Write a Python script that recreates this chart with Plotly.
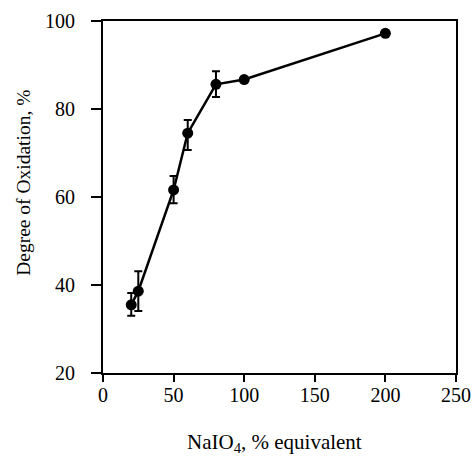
import plotly.graph_objects as go

# NaIO4 equivalents (%) and degree of oxidation (%)
naio4 = [20, 25, 50, 60, 80, 100, 200]
oxidation = [35.5, 38.6, 61.6, 74.5, 85.6, 86.7, 97.2]
err_plus = [2.7, 4.5, 3.2, 3.0, 3.0, 0, 0]
err_minus = [2.5, 4.5, 3.0, 3.8, 2.9, 0, 0]

x_ticks = [0, 50, 100, 150, 200, 250]
y_ticks = [20, 40, 60, 80, 100]

x_title = 'NaIO<sub>4</sub>, % equivalent'
y_title = 'Degree of Oxidation, %'

serif = 'Liberation Serif'

fig = go.Figure()

fig.add_trace(go.Scatter(
    x=naio4,
    y=oxidation,
    mode='lines+markers',
    line=dict(color='black', width=2.5),
    marker=dict(color='black', size=11),
    error_y=dict(
        type='data',
        symmetric=False,
        array=err_plus,
        arrayminus=err_minus,
        color='black',
        thickness=2,
        width=4
    ),
    showlegend=False
))

axis_style = dict(
    ticks='outside',
    tickwidth=2,
    tickcolor='black',
    showline=True,
    linecolor='black',
    linewidth=2,
    mirror=True,
    showgrid=False,
    zeroline=False,
    automargin=False,
    tickfont=dict(family=serif, size=20),
)

fig.update_layout(
    width=473,
    height=457,
    margin=dict(l=103, r=17, t=21, b=84, autoexpand=False),
    paper_bgcolor='white',
    plot_bgcolor='white',
    font=dict(family=serif, size=20, color='black'),
    xaxis=dict(range=[0, 250], tickvals=x_ticks, ticklen=7,
               ticklabelstandoff=-4, **axis_style),
    yaxis=dict(range=[20, 100], tickvals=y_ticks, ticklen=10,
               ticklabelstandoff=12, **axis_style),
    annotations=[
        dict(text=x_title, xref='paper', yref='paper', x=0.487, y=-0.2,
             xanchor='center', yanchor='middle', showarrow=False,
             font=dict(family=serif, size=21)),
        dict(text=y_title, xref='paper', yref='paper', x=-0.224, y=0.54,
             xanchor='center', yanchor='middle', showarrow=False,
             textangle=-90, font=dict(family=serif, size=19.5)),
    ],
)

# drop the default page margin so the figure sits at the window corner
fig.write_html(
    "out.html",
    config={'displayModeBar': False},
    post_script="document.body.style.margin='0';document.body.style.overflow='hidden';",
)
